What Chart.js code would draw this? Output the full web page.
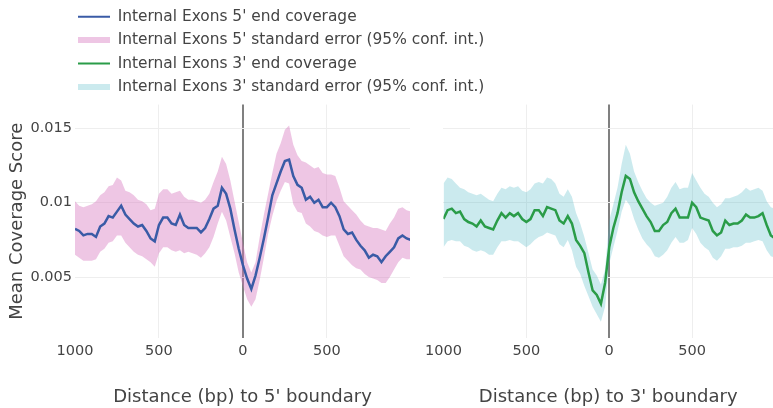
<!DOCTYPE html>
<html>
<head>
<meta charset="utf-8">
<script src="https://cdn.jsdelivr.net/npm/chart.js@4.4.1/dist/chart.umd.min.js"></script>
<style>
  body { margin: 0; background: #fff; }
  #wrap { position: relative; width: 773px; height: 408px; }
  canvas { position: absolute; top: 0; }
  #c5 { left: 0; }
  #c3 { left: 420px; }
</style>
</head>
<body>
<div id="wrap">
  <canvas id="c5" width="510" height="408"></canvas>
  <canvas id="c3" width="353" height="408"></canvas>
</div>
<script>
// distance from boundary (bp), one sample every 25 bp
var pos = [];
for (var p = -1000; p <= 1000; p += 25) pos.push(p);

// 5' boundary: mean coverage and 95% band
var cov5 = [0.00825,0.0081,0.0078,0.0079,0.0079,0.0077,0.0084,0.0086,0.0091,0.0090,
  0.0094,0.0098,0.0092,0.0089,0.0086,0.0084,0.0085,0.0081,0.0076,0.0074,
  0.0085,0.0090,0.0090,0.0086,0.0085,0.0092,0.0085,0.0083,0.0083,0.0083,
  0.0080,0.0083,0.0089,0.0096,0.0098,0.0110,0.0106,0.0096,0.0082,0.0069,
  0.0058,0.0049,0.0042,0.0051,0.0063,0.0076,0.0090,0.0105,0.0113,0.0121,
  0.0128,0.0129,0.0118,0.0112,0.0110,0.0102,0.0104,0.0100,0.0102,0.0097,
  0.0097,0.0100,0.0097,0.0091,0.0082,0.0079,0.0080,0.0075,0.0071,0.0068,
  0.0063,0.0065,0.0064,0.0060,0.0064,0.0067,0.0070,0.0076,0.0078,0.0076,0.0075];
var up5 = [0.0101,0.0098,0.0097,0.0098,0.0099,0.0101,0.0105,0.0107,0.0111,0.0112,
  0.0117,0.0115,0.0108,0.0107,0.0105,0.0102,0.0101,0.0099,0.0095,0.0096,
  0.0106,0.0109,0.0109,0.0106,0.0107,0.0108,0.0104,0.0102,0.0102,0.0101,
  0.0100,0.0102,0.0106,0.0114,0.0121,0.0131,0.0126,0.0115,0.0101,0.0087,
  0.0073,0.0060,0.0053,0.0060,0.0077,0.0092,0.0106,0.0120,0.0133,0.0140,
  0.0149,0.0152,0.0139,0.0132,0.0128,0.0127,0.0125,0.0123,0.0124,0.0120,
  0.0119,0.0119,0.0118,0.0110,0.0101,0.0098,0.0095,0.0092,0.0088,0.0085,
  0.0084,0.0083,0.0083,0.0082,0.0081,0.0086,0.0090,0.0096,0.0097,0.0095,0.0094];
var lo5 = [0.0065,0.0063,0.0061,0.0061,0.0061,0.0062,0.0067,0.0069,0.0073,0.0074,
  0.0078,0.0078,0.0073,0.0070,0.0067,0.0065,0.0064,0.0062,0.0060,0.0057,
  0.0066,0.0070,0.0070,0.0068,0.0067,0.0068,0.0066,0.0067,0.0066,0.0065,
  0.0063,0.0066,0.0070,0.0077,0.0086,0.0094,0.0088,0.0077,0.0066,0.0053,
  0.0044,0.0035,0.0030,0.0035,0.0048,0.0063,0.0079,0.0091,0.0101,0.0108,
  0.0114,0.0113,0.0099,0.0094,0.0093,0.0086,0.0084,0.0081,0.0080,0.0078,
  0.0077,0.0078,0.0078,0.0071,0.0064,0.0061,0.0058,0.0056,0.0055,0.0052,
  0.0050,0.0049,0.0048,0.0046,0.0046,0.0050,0.0055,0.0060,0.0063,0.0062,0.0062];

// 3' boundary: mean coverage and 95% band
var cov3 = [0.0089,0.0095,0.0096,0.0093,0.0094,0.0089,0.0087,0.0086,0.0084,0.0088,
  0.0084,0.0083,0.0082,0.0088,0.0093,0.0090,0.0093,0.0091,0.0093,0.0089,
  0.0087,0.0089,0.0095,0.0095,0.0091,0.0097,0.0096,0.0095,0.0088,0.0086,
  0.0091,0.0086,0.0075,0.0071,0.0066,0.0053,0.0041,0.0038,0.0032,0.0046,
  0.0070,0.0083,0.0093,0.0107,0.0118,0.0116,0.0107,0.0101,0.0096,0.0091,
  0.0087,0.0081,0.0081,0.0085,0.0087,0.0093,0.0096,0.0090,0.0090,0.0090,
  0.0100,0.0097,0.0090,0.0089,0.0088,0.0081,0.0078,0.0080,0.0088,0.0085,
  0.0086,0.0086,0.0088,0.0092,0.0090,0.0090,0.0091,0.0093,0.0085,0.0078,0.0076];
var up3 = [0.0113,0.0117,0.0116,0.0113,0.0110,0.0109,0.0107,0.0106,0.0105,0.0106,
  0.0104,0.0102,0.0101,0.0106,0.0110,0.0109,0.0111,0.0110,0.0111,0.0108,
  0.0107,0.0109,0.0113,0.0114,0.0113,0.0117,0.0116,0.0113,0.0106,0.0104,
  0.0109,0.0104,0.0093,0.0086,0.0077,0.0066,0.0055,0.0051,0.0045,0.0055,
  0.0088,0.0099,0.0110,0.0126,0.0139,0.0133,0.0121,0.0114,0.0108,0.0103,
  0.0100,0.0098,0.0099,0.0100,0.0104,0.0110,0.0114,0.0109,0.0110,0.0110,
  0.0120,0.0115,0.0110,0.0106,0.0104,0.0100,0.0097,0.0099,0.0103,0.0103,
  0.0104,0.0105,0.0107,0.0110,0.0108,0.0109,0.0110,0.0108,0.0101,0.0097,0.0096];
var lo3 = [0.0070,0.0074,0.0075,0.0074,0.0074,0.0071,0.0070,0.0068,0.0067,0.0068,
  0.0067,0.0065,0.0065,0.0070,0.0074,0.0074,0.0075,0.0074,0.0074,0.0072,
  0.0070,0.0072,0.0075,0.0077,0.0078,0.0080,0.0079,0.0078,0.0072,0.0070,
  0.0075,0.0068,0.0057,0.0052,0.0044,0.0037,0.0030,0.0025,0.0020,0.0030,
  0.0059,0.0070,0.0081,0.0094,0.0102,0.0098,0.0089,0.0082,0.0076,0.0072,
  0.0069,0.0064,0.0063,0.0065,0.0068,0.0073,0.0077,0.0073,0.0073,0.0075,
  0.0083,0.0079,0.0073,0.0070,0.0068,0.0063,0.0061,0.0064,0.0069,0.0069,
  0.0070,0.0070,0.0071,0.0073,0.0073,0.0074,0.0075,0.0074,0.0068,0.0064,0.0063];

var xTicks = [-1000, -500, 0, 500];
var yTicks = [0.005, 0.01, 0.015];
var names = ["Internal Exons 5' end coverage",
  "Internal Exons 5' standard error (95% conf. int.)",
  "Internal Exons 3' end coverage",
  "Internal Exons 3' standard error (95% conf. int.)"];

var blue = '#3a5ba6';
var pink = 'rgba(214, 120, 190, 0.42)';
var green = '#2a9c48';
var cyan = 'rgba(70, 180, 195, 0.28)';
var textColor = '#444';

Chart.defaults.font.family = 'DejaVu Sans';
Chart.defaults.color = textColor;

function pts(ys) {
  return ys.map(function(y, i) { return { x: pos[i], y: y }; });
}

function lineSet(label, ys, color) {
  return { label: label, data: pts(ys), borderColor: color, borderWidth: 2.5,
    pointRadius: 0, tension: 0, fill: false };
}
function bandSet(label, ys, color, fill) {
  return { label: label, data: pts(ys), borderColor: 'rgba(0,0,0,0)', borderWidth: 0,
    backgroundColor: color, pointRadius: 0, tension: 0, fill: fill };
}

function xAxis(max, title) {
  return {
    type: 'linear', min: -1000, max: max,
    afterBuildTicks: function(axis) { axis.ticks = xTicks.map(function(v) { return { value: v }; }); },
    afterFit: function(axis) { axis.height = 70; },
    ticks: { font: { size: 14.5 }, padding: 5, maxRotation: 0,
      callback: function(v) { return String(Math.abs(v)); } },
    grid: {
      drawTicks: false,
      color: function(c) {
        if (c.tick.value === 0) return '#808080';
        if (Math.abs(c.tick.value) === 1000) return 'rgba(0,0,0,0)';
        return '#eeeeee';
      },
      lineWidth: function(c) { return c.tick.value === 0 ? 2 : 1; }
    },
    border: { display: false },
    title: { display: true, text: title, font: { size: 18 }, padding: { top: 0, bottom: 0 } }
  };
}

function yAxis(width, showLabels) {
  return {
    min: 0.0009, max: 0.0166,
    afterBuildTicks: function(axis) { axis.ticks = yTicks.map(function(v) { return { value: v }; }); },
    afterFit: function(axis) { axis.width = width; },
    ticks: { display: showLabels, font: { size: 14.5 }, padding: 3,
      callback: function(v) { return String(v); } },
    grid: { drawTicks: false, color: '#eeeeee' },
    border: { display: false },
    title: { display: showLabels, text: 'Mean Coverage Score', font: { size: 18 },
      padding: { top: 7, bottom: 0 } }
  };
}

// push the legend rows to start over the plot and let them run past it
var legendOffset = {
  id: 'legendOffset',
  afterLayout: function(chart) {
    chart.legend.left += 70;
    chart.legend.right = chart.width;
    chart.legend.width = chart.legend.right - chart.legend.left;
  }
};

function legendItem(text, style, color, width) {
  return { text: text, pointStyle: style, strokeStyle: color, fillStyle: color,
    lineWidth: width, fontColor: textColor, hidden: false };
}

var chart5 = new Chart(document.getElementById('c5'), {
  type: 'line',
  data: { datasets: [
    lineSet(names[0], cov5, blue),
    bandSet('up5', up5, pink, false),
    bandSet(names[1], lo5, pink, '-1')
  ] },
  options: {
    responsive: false, animation: false,
    layout: { padding: { top: 1, right: 100, left: 0, bottom: 0 } },
    plugins: {
      tooltip: { enabled: false },
      legend: {
        position: 'top', align: 'start',
        labels: {
          font: { size: 15.4 }, padding: 8, usePointStyle: true,
          pointStyleWidth: 32, boxHeight: 6, color: textColor,
          generateLabels: function() {
            return [
              legendItem(names[0], 'line', blue, 2),
              legendItem(names[1], 'rect', pink, 0),
              legendItem(names[2], 'line', green, 2),
              legendItem(names[3], 'rect', cyan, 0)
            ];
          }
        }
      }
    },
    scales: {
      x: xAxis(995, "Distance (bp) to 5' boundary"),
      y: yAxis(75, true)
    }
  },
  plugins: [legendOffset]
});

var chart3 = new Chart(document.getElementById('c3'), {
  type: 'line',
  data: { datasets: [
    lineSet(names[2], cov3, green),
    bandSet('up3', up3, cyan, false),
    bandSet(names[3], lo3, cyan, '-1')
  ] },
  options: {
    responsive: false, animation: false,
    layout: { padding: { top: chart5.chartArea.top, right: 0, left: 0, bottom: 0 } },
    plugins: { tooltip: { enabled: false }, legend: { display: false } },
    scales: {
      x: xAxis(988, "Distance (bp) to 3' boundary"),
      y: yAxis(19, false)
    }
  }
});
</script>
</body>
</html>
